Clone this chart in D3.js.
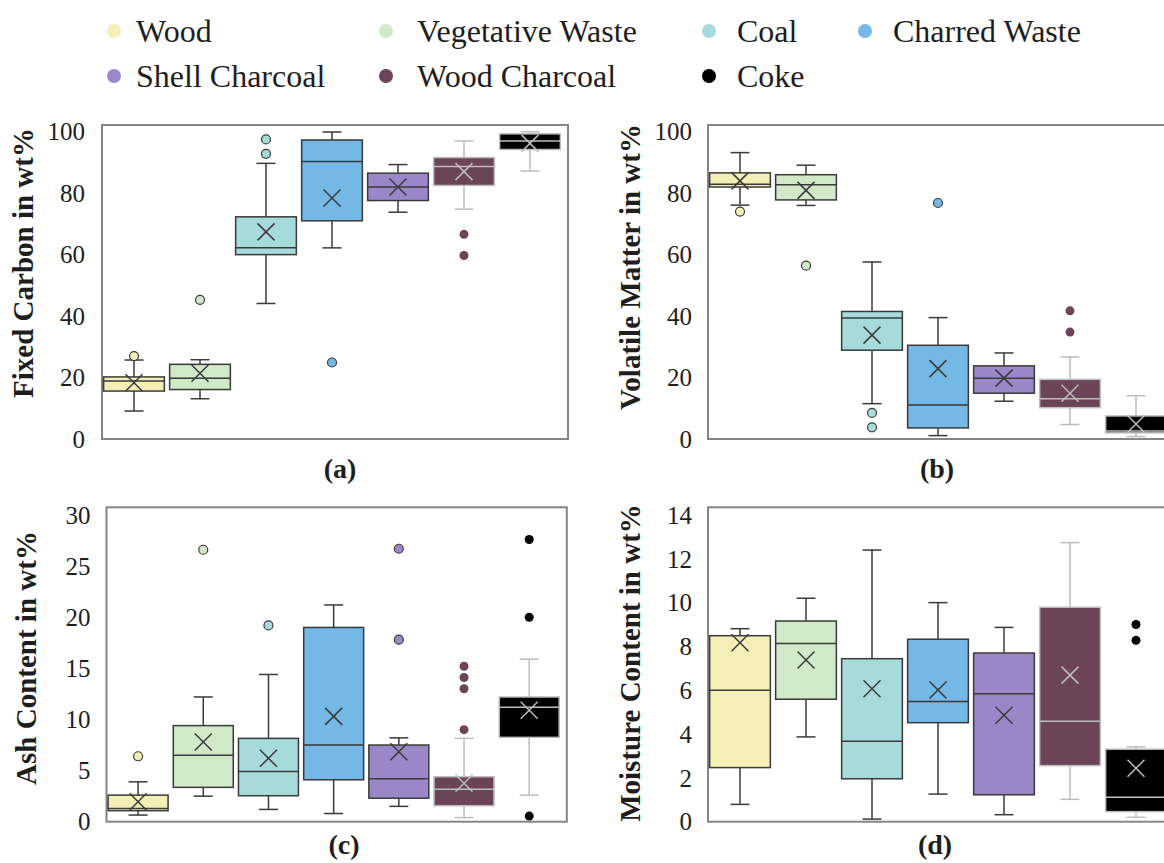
<!DOCTYPE html>
<html><head><meta charset="utf-8">
<script src="https://cdn.jsdelivr.net/npm/d3@7"></script>
<style>body{margin:0;background:#fff}svg{display:block}</style>
</head><body>
<svg id="chart" width="1164" height="863"></svg>
<script>
const categories = ["Wood","Vegetative Waste","Coal","Charred Waste","Shell Charcoal","Wood Charcoal","Coke"];
const fillColors = ["#f4efb6","#d0e9c8","#a7dbdb","#74b8e6","#9b87c8","#6b4457","#000000"];

// (a) Fixed Carbon
const fcTicks = [0,20,40,60,80,100];
const fcLow    = [9.1, 13.1, 44.1, 62.2, 73.8, 74.8, 87.2];
const fcQ1     = [15.6, 16.1, 60.0, 71.0, 77.6, 82.5, 94.2];
const fcMedian = [18.9, 19.8, 62.2, 90.3, 82.0, 88.7, 97.0];
const fcQ3     = [20.2, 24.3, 72.3, 97.3, 86.5, 91.6, 99.3];
const fcHigh   = [25.7, 25.8, 89.7, 99.9, 89.3, 97.0, 100];
const fcMean   = [18.3, 21.4, 67.4, 78.4, 82.0, 87.0, 96.2];
const fcOutliers = [[27.0],[45.3],[92.8,97.5],[24.9],[],[59.7,66.6],[]];

// (b) Volatile Matter
const vmTicks = [0,20,40,60,80,100];
const vmLow    = [76.1, 76.0, 11.5, 1.1, 12.3, 4.7, 0.8];
const vmQ1     = [82.0, 77.8, 28.9, 3.6, 14.9, 10.2, 2.0];
const vmMedian = [82.9, 82.7, 39.4, 11.1, 19.8, 13.1, 2.6];
const vmQ3     = [86.6, 86.0, 41.5, 30.5, 23.8, 19.4, 7.5];
const vmHigh   = [93.2, 89.1, 57.6, 39.5, 28.0, 26.7, 14.1];
const vmMean   = [84.0, 80.9, 33.8, 22.9, 19.8, 14.9, 4.9];
const vmOutliers = [[74.0],[56.4],[3.8,8.5],[76.8],[],[34.8,41.7],[]];

// (c) Ash Content
const acTicks = [0,5,10,15,20,25,30];
const acLow    = [0.65, 2.5, 1.2, 0.8, 1.5, 0.4, 2.6];
const acQ1     = [1.08, 3.36, 2.54, 4.1, 2.3, 1.56, 8.25];
const acMedian = [1.3, 6.5, 4.9, 7.5, 4.2, 3.17, 11.2];
const acQ3     = [2.6, 9.4, 8.15, 19.0, 7.5, 4.4, 12.2];
const acHigh   = [3.9, 12.2, 14.4, 21.2, 8.2, 8.15, 15.9];
const acMean   = [1.96, 7.8, 6.2, 10.3, 6.85, 3.76, 10.9];
const acOutliers = [[6.4],[26.6],[19.2],[],[17.8,26.7],[9.0,13.0,14.1,15.2],[0.55,20.0,27.6]];

// (d) Moisture Content
const mcTicks = [0,2,4,6,8,10,12,14];
const mcLow    = [0.79, 3.87, 0.12, 1.26, 0.32, 1.02, 0.2];
const mcQ1     = [2.47, 5.59, 1.96, 4.52, 1.23, 2.56, 0.46];
const mcMedian = [6.0, 8.14, 3.67, 5.49, 5.84, 4.59, 1.12];
const mcQ3     = [8.49, 9.16, 7.44, 8.33, 7.7, 9.79, 3.31];
const mcHigh   = [8.81, 10.2, 12.4, 10.0, 8.87, 12.74, 3.42];
const mcMean   = [8.17, 7.38, 6.07, 6.01, 4.86, 6.69, 2.44];
const mcOutliers = [[],[],[],[],[],[],[8.28,9.0]];

const svg = d3.select("#chart");
const FONT = "'Liberation Serif', 'Times New Roman', serif";
const TXT = "#1e1e1e";
const DARK = "#3a3a3a", LIGHT = "#bdbdbd";

function drawPanel(p) {
  const g = svg.append("g");
  const rows = categories.map((c, i) => ({
    cat: c, i, low: p.low[i], q1: p.q1[i], med: p.med[i], q3: p.q3[i],
    high: p.high[i], mean: p.mean[i], out: p.out[i],
    fill: fillColors[i], line: i >= 5 ? LIGHT : DARK
  }));
  const y = d3.scaleLinear().domain([0, d3.max(p.ticks)]).range([p.bottom, p.maxPx]);
  const x = d3.scaleBand().domain(categories).range([p.L - 1, p.R - 5]).paddingInner(0.08).paddingOuter(0.04);
  const bw = x.bandwidth();
  const cx = d => x(d.cat) + bw / 2;

  g.append("rect").attr("x", p.L).attr("y", p.top).attr("width", p.R - p.L).attr("height", p.bottom - p.top)
    .attr("fill", "none").attr("stroke", "#858585").attr("stroke-width", 2);

  const ax = g.append("g").attr("transform", `translate(${p.L},0)`)
    .call(d3.axisLeft(y).tickValues(p.ticks).tickSize(0).tickPadding(p.pad));
  ax.select(".domain").remove();
  ax.selectAll("text").attr("font-family", FONT).attr("font-size", 25).attr("fill", TXT).attr("dy", "0.33em");

  const box = g.selectAll("g.box").data(rows).join("g").attr("class", "box");
  box.append("line").attr("x1", cx).attr("x2", cx).attr("y1", d => y(d.high)).attr("y2", d => y(d.q3))
    .attr("stroke", d => d.line).attr("stroke-width", 1.5);
  box.append("line").attr("x1", cx).attr("x2", cx).attr("y1", d => y(d.q1)).attr("y2", d => y(d.low))
    .attr("stroke", d => d.line).attr("stroke-width", 1.5);
  box.append("line").attr("x1", d => cx(d) - 9.5).attr("x2", d => cx(d) + 9.5).attr("y1", d => y(d.high)).attr("y2", d => y(d.high))
    .attr("stroke", d => d.line).attr("stroke-width", 1.5);
  box.append("line").attr("x1", d => cx(d) - 9.5).attr("x2", d => cx(d) + 9.5).attr("y1", d => y(d.low)).attr("y2", d => y(d.low))
    .attr("stroke", d => d.line).attr("stroke-width", 1.5);
  box.append("rect").attr("x", d => x(d.cat)).attr("width", bw)
    .attr("y", d => y(d.q3)).attr("height", d => y(d.q1) - y(d.q3))
    .attr("fill", d => d.fill).attr("stroke", d => d.line).attr("stroke-width", 1.5);
  box.append("line").attr("x1", d => x(d.cat)).attr("x2", d => x(d.cat) + bw)
    .attr("y1", d => y(d.med)).attr("y2", d => y(d.med))
    .attr("stroke", d => d.line).attr("stroke-width", 1.5);
  box.append("path").attr("transform", d => `translate(${cx(d)},${y(d.mean)})`)
    .attr("d", "M-8.5,-8.5L8.5,8.5M-8.5,8.5L8.5,-8.5")
    .attr("stroke", d => d.line).attr("stroke-width", 1.5).attr("fill", "none");
  box.each(function(d) {
    d3.select(this).selectAll("circle").data(d.out).join("circle")
      .attr("cx", cx(d)).attr("cy", v => y(v)).attr("r", 4.5)
      .attr("fill", d.fill)
      .attr("stroke", d.i >= 5 ? "none" : DARK).attr("stroke-width", 1.2);
  });

  g.append("text").attr("transform", `translate(${p.titleX},${p.titleY}) rotate(-90)`)
    .attr("text-anchor", "middle").attr("dy", "0.33em")
    .attr("font-family", FONT).attr("font-weight", "bold").attr("font-size", 29).attr("fill", TXT)
    .text(p.title);
  g.append("text").attr("x", p.labelX).attr("y", p.labelY).attr("text-anchor", "middle")
    .attr("font-family", FONT).attr("font-weight", "bold").attr("font-size", 28).attr("fill", TXT)
    .text(p.label);
}

drawPanel({L: 102, R: 568, top: 125, bottom: 439, maxPx: 131.7, pad: 17, ticks: fcTicks,
  low: fcLow, q1: fcQ1, med: fcMedian, q3: fcQ3, high: fcHigh, mean: fcMean, out: fcOutliers,
  title: "Fixed Carbon in wt%", titleX: 23, titleY: 263, label: "(a)", labelX: 340, labelY: 478});
drawPanel({L: 708, R: 1174, top: 125, bottom: 439, maxPx: 131.7, pad: 16, ticks: vmTicks,
  low: vmLow, q1: vmQ1, med: vmMedian, q3: vmQ3, high: vmHigh, mean: vmMean, out: vmOutliers,
  title: "Volatile Matter in wt%", titleX: 630, titleY: 267, label: "(b)", labelX: 937, labelY: 478});
drawPanel({L: 106.5, R: 566.8, top: 507.3, bottom: 821.7, maxPx: 515, pad: 16, ticks: acTicks,
  low: acLow, q1: acQ1, med: acMedian, q3: acQ3, high: acHigh, mean: acMean, out: acOutliers,
  title: "Ash Content in wt%", titleX: 26, titleY: 658, label: "(c)", labelX: 344, labelY: 854});
drawPanel({L: 708, R: 1174, top: 507.3, bottom: 821.7, maxPx: 515, pad: 16, ticks: mcTicks,
  low: mcLow, q1: mcQ1, med: mcMedian, q3: mcQ3, high: mcHigh, mean: mcMean, out: mcOutliers,
  title: "Moisture Content in wt%", titleX: 630, titleY: 663, label: "(d)", labelX: 935, labelY: 854});

const legMarkerX = [114, 386, 709, 865];
const legTextX = [136, 417, 737, 893];
const leg = svg.append("g").selectAll("g").data(categories).join("g")
  .attr("transform", (d, i) => `translate(0,${i < 4 ? 31 : 76})`);
leg.append("circle").attr("cx", (d, i) => legMarkerX[i < 4 ? i : i - 4]).attr("cy", 0).attr("r", 7)
  .attr("fill", (d, i) => fillColors[i]);
leg.append("text").attr("x", (d, i) => legTextX[i < 4 ? i : i - 4]).attr("dy", "0.33em")
  .attr("font-family", FONT).attr("font-size", 32).attr("fill", TXT).text(d => d);
</script>
</body></html>
